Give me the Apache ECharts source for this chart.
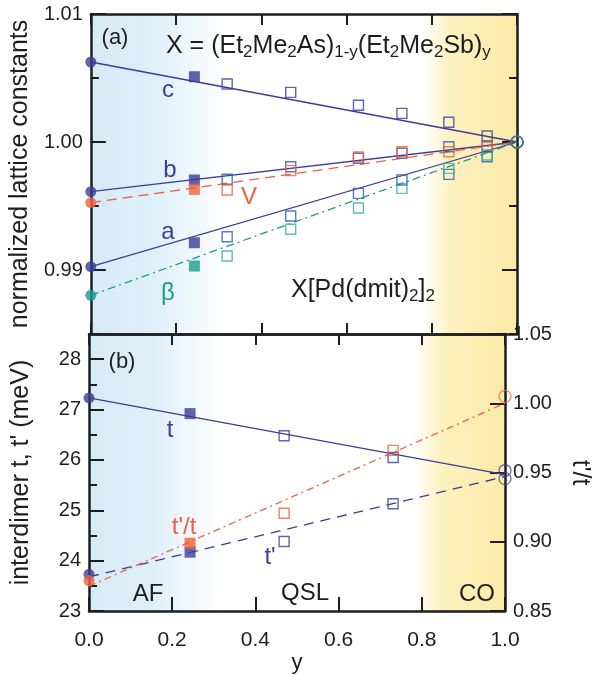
<!DOCTYPE html>
<html><head><meta charset="utf-8">
<script src="https://cdn.jsdelivr.net/npm/echarts@6/dist/echarts.min.js"></script>
<style>html,body{margin:0;padding:0;background:#fff}#c{width:600px;height:675px}</style>
</head><body><div id="c"></div>
<script>
// ---------- data ----------
const yTop = [0, 0.243, 0.32, 0.469, 0.628, 0.73, 0.84, 0.93, 1.0];
const latC = [1.00625, 1.00510, 1.00453, 1.00388, 1.00287, 1.00224, 1.00154, 1.00047, 1.0];
const latB = [0.99612, 0.99703, 0.99709, 0.99807, 0.99873, 0.99912, 0.99963, 0.99965, 1.0];
const latV = [0.99526, 0.99630, 0.99625, 0.99776, 0.99883, 0.99924, 0.99924, 0.99960, 1.0];
const latA = [0.99026, 0.99213, 0.99260, 0.99422, 0.99599, 0.99703, 0.99747, 0.99885, 1.0];
const latBeta = [0.98802, 0.99031, 0.99109, 0.99318, 0.99484, 0.99638, 0.99794, 0.99898, 1.0];
const fitX = [0, 1];
const fitC = [1.00625, 1.0];
const fitB = [0.99612, 1.0];
const fitV = [0.99526, 1.0];
const fitA = [0.99026, 1.0];
const fitBeta = [0.98802, 1.0];

const yBot = [0, 0.243, 0.469, 0.731, 1.0];
const tVals = [27.23, 26.92, 26.48, 26.05, 25.63];
const tpVals = [23.73, 24.17, 24.38, 25.13, 25.79];
const ratioVals = [0.872, 0.899, 0.9206, 0.966, 1.005];
const fitT = [27.23, 25.71];
const fitTp = [23.68, 25.67];
const fitRatio = [0.868, 1.0];

const xTickVals = [0, 0.2, 0.4, 0.6, 0.8, 1.0];
const topMajor = [0.99, 1.00, 1.01];
const topMinor = [0.985, 0.995, 1.005];
const botMajor = [23, 24, 25, 26, 27, 28];
const botMinor = [23.5, 24.5, 25.5, 26.5, 27.5];
const ratioTicks = [0.85, 0.90, 0.95, 1.00, 1.05];
const afRange = [0, 0.32];
const coRange = [0.78, 1.0];

// ---------- style ----------
const FONT = '"Liberation Sans", Arial, Helvetica, sans-serif';
const INK = '#1e1e1e';
const NAVY = '#3b3d97', BLUE2 = '#2c5cab', RED = '#ef6140', TEAL = '#1c9b8d', TEAL2 = '#3aaca2';

function pts(xs, vals, filled, open) {
  return xs.map((x, i) => {
    const last = i === xs.length - 1;
    let symbol = 'rect', size = 11, st;
    if (i === 0) { symbol = 'circle'; size = 11; st = { color: filled }; }
    else if (i === 1) { size = 11; st = { color: filled }; }
    else if (last) { symbol = 'circle'; size = 12; st = { color: 'rgba(255,255,255,0)', borderColor: filled, borderWidth: 1.2 }; }
    else { size = 10; st = { color: 'rgba(255,255,255,0)', borderColor: open, borderWidth: 1.4 }; }
    return { value: [x, vals[i]], symbol, symbolSize: size, itemStyle: st };
  });
}
function fit(vals, color, type, xi, yi) {
  return { type: 'line', xAxisIndex: xi, yAxisIndex: yi, data: fitX.map((x, i) => [x, vals[i]]),
    symbol: 'none', showSymbol: false, silent: true, z: 4,
    lineStyle: { color, width: 1.3, type } };
}
function scat(xs, vals, filled, open, xi, yi) {
  return { type: 'scatter', xAxisIndex: xi, yAxisIndex: yi, data: pts(xs, vals, filled, open), clip: false, silent: true, z: 5 };
}
const gradBlue = { type: 'linear', x: 0, y: 0, x2: 1, y2: 0, colorStops: [
  { offset: 0, color: '#d7ebf7' }, { offset: 0.45, color: '#ddeff9' }, { offset: 1, color: '#ffffff' }] };
const gradYellow = { type: 'linear', x: 0, y: 0, x2: 1, y2: 0, colorStops: [
  { offset: 0, color: '#ffffff' }, { offset: 0.3, color: '#fdf1c0' }, { offset: 1, color: '#fceaa6' }] };
function bg(xi, yi, y0) {
  return { type: 'line', xAxisIndex: xi, yAxisIndex: yi, data: [[0, y0]], symbol: 'none', silent: true, z: 1,
    lineStyle: { opacity: 0 },
    markArea: { silent: true, data: [
      [{ xAxis: afRange[0], itemStyle: { color: gradBlue } }, { xAxis: afRange[1] }],
      [{ xAxis: coRange[0], itemStyle: { color: gradYellow } }, { xAxis: coRange[1] }]
    ] } };
}

const axLine = { show: true, lineStyle: { color: INK, width: 2.5 } };
function xAx(grid, pos, showLabel, len) {
  return { type: 'value', gridIndex: grid, position: pos, min: 0, max: 1, interval: 0.2, z: 3,
    axisLine: axLine, splitLine: { show: false },
    axisTick: { inside: true, length: len, lineStyle: { color: INK, width: 2 } },
    axisLabel: { show: showLabel, fontSize: 21, fontFamily: FONT, color: INK, margin: 19,
      formatter: v => v.toFixed(1) },
    name: showLabel ? 'y' : '', nameLocation: 'middle', nameGap: 37,
    nameTextStyle: { fontSize: 22, fontFamily: FONT, color: INK } };
}
function yAx(grid, pos, min, max, ticks, len, opts) {
  return Object.assign({ type: 'value', gridIndex: grid, position: pos, min, max, z: 3,
    axisLine: { show: false }, splitLine: { show: false },
    axisTick: { inside: true, length: len, customValues: ticks, lineStyle: { color: INK, width: 2 } },
    axisLabel: { show: false } }, opts || {});
}
const nameStyle = { fontSize: 25, fontFamily: FONT, color: INK };
const labStyle = (vals, dec) => ({ show: true, customValues: vals, fontSize: 20, fontFamily: FONT, color: INK, margin: 8,
  formatter: v => Number(v).toFixed(dec) });

function txt(x, y, text, color, size, align) {
  return { type: 'text', x, y, z: 20, silent: true,
    style: { text, fill: color, font: `${size}px ${FONT}`, textAlign: align || 'center', textVerticalAlign: 'middle' } };
}
function rich(x, y, text) {
  return { type: 'text', x, y, z: 20, silent: true,
    style: { text, fill: INK, font: `25px ${FONT}`, textAlign: 'left', textVerticalAlign: 'middle',
      rich: { m: { fontSize: 25, fontFamily: FONT, lineHeight: 30 },
              s: { fontSize: 17, fontFamily: FONT, lineHeight: 16, verticalAlign: 'bottom' } } } };
}

const option = {
  animation: false,
  backgroundColor: '#ffffff',
  grid: [
    { left: 89, top: 14, width: 428, height: 320 },
    { left: 89, top: 334, width: 428, height: 284 }
  ],
  xAxis: [
    xAx(0, 'bottom', false, 11),
    xAx(0, 'top', false, 11),
    xAx(1, 'bottom', true, 14),
    xAx(1, 'top', false, 11)
  ],
  yAxis: [
    yAx(0, 'left', 0.985, 1.01, topMajor, 15, { axisLine: axLine, axisLabel: labStyle(topMajor, 2),
      name: 'normalized lattice constants', nameLocation: 'middle', nameGap: 57, nameTextStyle: nameStyle }),
    yAx(0, 'left', 0.985, 1.01, topMinor, 8),
    yAx(0, 'right', 0.985, 1.01, topMajor, 15, { axisLine: axLine }),
    yAx(0, 'right', 0.985, 1.01, topMinor, 8),
    yAx(1, 'left', 23, 28.5, botMajor, 15, { axisLine: axLine, axisLabel: labStyle(botMajor, 0),
      name: "interdimer t, t' (meV)", nameLocation: 'middle', nameGap: 55, nameTextStyle: nameStyle }),
    yAx(1, 'left', 23, 28.5, botMinor, 8),
    yAx(1, 'right', 0.85, 1.05, ratioTicks, 15, { axisLine: axLine, axisLabel: labStyle(ratioTicks, 2),
      name: "t'/t", nameLocation: 'middle', nameGap: 62, nameRotate: -90, nameTextStyle: nameStyle })
  ],
  series: [
    bg(0, 0, 1.0),
    bg(2, 4, 25),
    fit(fitC, NAVY, 'solid', 0, 0),
    fit(fitB, NAVY, 'solid', 0, 0),
    fit(fitV, RED, [10, 6], 0, 0),
    fit(fitA, NAVY, 'solid', 0, 0),
    fit(fitBeta, TEAL, [8, 4, 2, 4], 0, 0),
    scat(yTop, latC, NAVY, NAVY, 0, 0),
    scat(yTop, latB, NAVY, BLUE2, 0, 0),
    scat(yTop, latV, RED, RED, 0, 0),
    scat(yTop, latA, NAVY, BLUE2, 0, 0),
    scat(yTop, latBeta, TEAL, TEAL2, 0, 0),
    fit(fitT, NAVY, 'solid', 2, 4),
    fit(fitTp, NAVY, [10, 7], 2, 4),
    fit(fitRatio, RED, [7, 4, 2, 4], 2, 6),
    scat(yBot, tVals, NAVY, NAVY, 2, 4),
    scat(yBot, tpVals, NAVY, NAVY, 2, 4),
    scat(yBot, ratioVals, RED, RED, 2, 6)
  ],
  graphic: [
    txt(115, 38, '(a)', INK, 22),
    rich(166, 46, '{m|X = (Et}{s|2}{m|Me}{s|2}{m|As)}{s|1-y}{m|(Et}{s|2}{m|Me}{s|2}{m|Sb)}{s|y}'),
    txt(168, 90, 'c', NAVY, 24),
    txt(170, 170, 'b', NAVY, 24),
    txt(249, 197, 'V', RED, 24),
    txt(168, 232, 'a', NAVY, 24),
    txt(168, 293, 'β', TEAL, 24),
    rich(291, 290, '{m|X[Pd(dmit)}{s|2}{m|]}{s|2}'),
    txt(122, 362, '(b)', INK, 22),
    txt(170, 430, 't', NAVY, 24),
    txt(184, 527, "t'/t", RED, 24),
    txt(270, 557, "t'", NAVY, 24),
    txt(148, 594, 'AF', INK, 24),
    txt(305, 593, 'QSL', INK, 24),
    txt(477, 594, 'CO', INK, 24)
  ]
};
const chart = echarts.init(document.getElementById('c'), null, { renderer: 'canvas' });
chart.setOption(option);
</script></body></html>
